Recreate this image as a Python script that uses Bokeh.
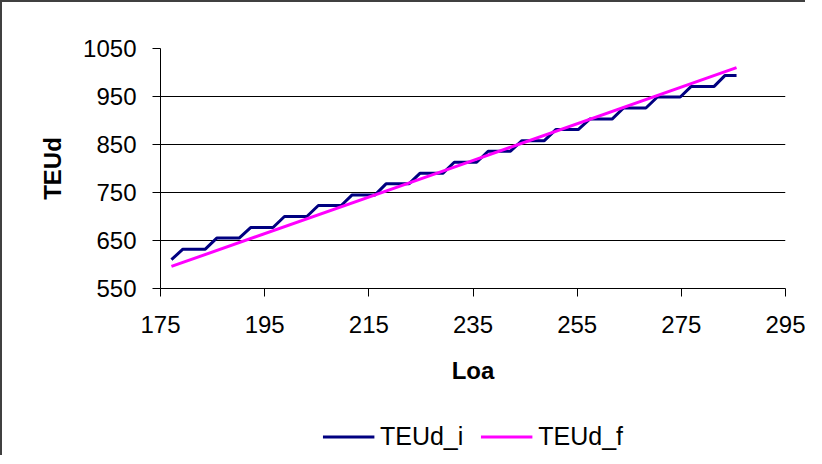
from bokeh.plotting import figure
from bokeh.layouts import column
from bokeh.models import Legend, LegendItem, FixedTicker
from bokeh.embed import file_html
from bokeh.resources import INLINE

# Data
loa = [177.1, 179.3, 181.4, 183.6, 185.8, 188.0, 190.1, 192.3, 194.5, 196.6,
       198.8, 201.0, 203.1, 205.3, 207.5, 209.7, 211.8, 214.0, 216.2, 218.3,
       220.5, 222.7, 224.8, 227.0, 229.2, 231.4, 233.5, 235.7, 237.9, 240.0,
       242.2, 244.4, 246.5, 248.7, 250.9, 253.1, 255.2, 257.4, 259.6, 261.7,
       263.9, 266.1, 268.2, 270.4, 272.6, 274.8, 276.9, 279.1, 281.3, 283.4,
       285.6]
teud_i = [610, 632, 632, 632, 655, 655, 655, 677, 677, 677,
          700, 700, 700, 723, 723, 723, 745, 745, 745, 768,
          768, 768, 790, 790, 790, 813, 813, 813, 836, 836,
          836, 858, 858, 858, 881, 881, 881, 903, 903, 903,
          926, 926, 926, 949, 949, 949, 971, 971, 971, 994,
          994]
loa_f = [177.1, 231.4, 285.6]
teud_f = [596, 803, 1010]

series_names = ["TEUd_i", "TEUd_f"]
series_colors = ["#000080", "#FF00FF"]

x_ticks = [175, 195, 215, 235, 255, 275, 295]
y_ticks = [550, 650, 750, 850, 950, 1050]

FONT = "Liberation Sans"

p = figure(frame_width=625, frame_height=240, output_backend="svg", toolbar_location=None,
           x_range=(175, 295), y_range=(550, 1050),
           min_border_left=158, min_border_right=20, min_border_top=46,
           min_border_bottom=129)
p.outline_line_color = None
p.background_fill_color = "white"
p.border_fill_color = "white"

p.xaxis.ticker = FixedTicker(ticks=x_ticks)
p.yaxis.ticker = FixedTicker(ticks=y_ticks)
for ax in (p.xaxis[0], p.yaxis[0]):
    ax.axis_line_color = "black"
    ax.major_tick_line_color = "black"
    ax.major_tick_out = 8
    ax.major_tick_in = 0
    ax.minor_tick_line_color = None
    ax.major_label_text_font = FONT
    ax.major_label_text_font_size = "24px"
    ax.major_label_text_color = "black"
    ax.axis_label_text_font = FONT
    ax.axis_label_text_font_size = "24px"
    ax.axis_label_text_font_style = "bold"
    ax.axis_label_text_color = "black"
p.xaxis.axis_label = "Loa"
p.yaxis.axis_label = "TEUd"
p.xaxis.major_label_standoff = 19
p.yaxis.major_label_standoff = 16
p.xaxis.axis_label_standoff = 21
p.yaxis.axis_label_standoff = 14

p.xgrid.grid_line_color = None
p.ygrid.grid_line_color = "black"
p.ygrid.grid_line_width = 1

p.line(loa, teud_i, line_color=series_colors[0], line_width=3)
p.line(loa_f, teud_f, line_color=series_colors[1], line_width=3)

# Legend strip below the chart; its frame is aligned with the main plot area.
# The series are drawn again here outside its (0..1) ranges, only so the legend has renderers.
pl = figure(frame_width=625, height=38, output_backend="svg", toolbar_location=None,
            x_range=(0, 1), y_range=(0, 1),
            min_border_left=152, min_border_right=26, min_border_top=0,
            min_border_bottom=0)
pl.axis.visible = False
pl.grid.grid_line_color = None
pl.outline_line_color = None
ra = pl.line(loa, teud_i, line_color=series_colors[0], line_width=3)
rb = pl.line(loa_f, teud_f, line_color=series_colors[1], line_width=3)
items = [LegendItem(label=series_names[0], renderers=[ra]),
         LegendItem(label=series_names[1], renderers=[rb])]
legend = Legend(items=items, orientation="horizontal", location="center",
                glyph_width=52, glyph_height=24, label_standoff=6, spacing=17,
                padding=0, margin=0,
                label_text_font=FONT, label_text_font_size="25px",
                label_text_color="black",
                border_line_color=None, background_fill_alpha=0)
pl.add_layout(legend, "center")

layout = column(p, pl, spacing=0)
layout.styles = {"border-left": "2px solid #404040", "border-top": "2px solid #404040"}
open("out.html", "w").write(file_html(layout, INLINE))
